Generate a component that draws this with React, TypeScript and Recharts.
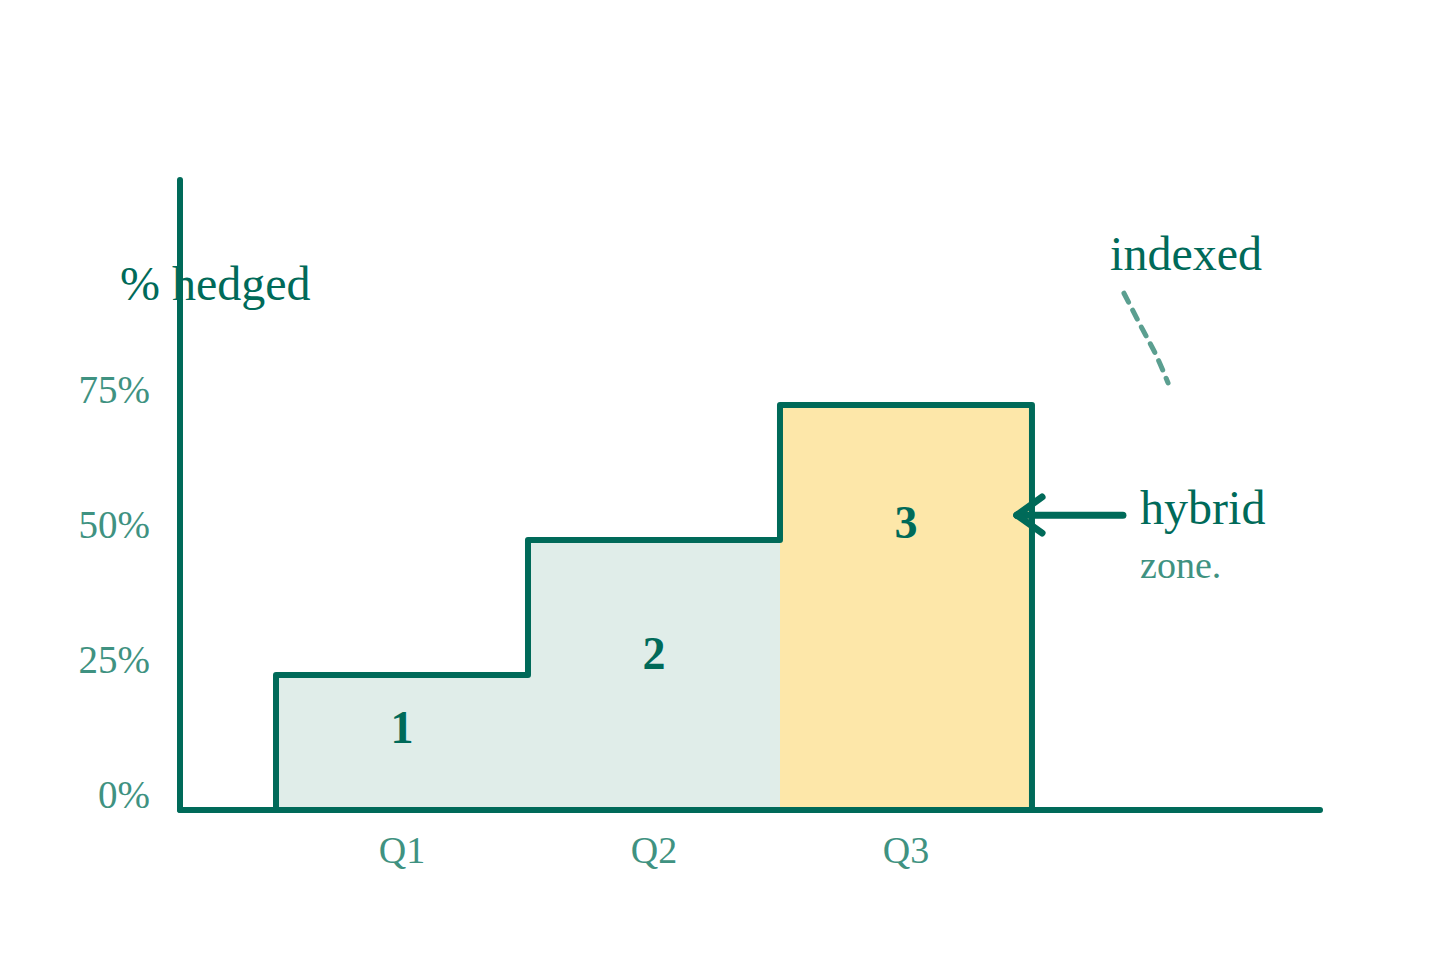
import {
  ComposedChart, Area, Line, XAxis, YAxis, ReferenceLine, ReferenceDot,
} from 'recharts'

// step outline: quarter position (Q1 centre = 1) vs % hedged
const stepX = [0.5, 0.5, 1.5, 2.5, 3.5, 3.5]
const stepY = [0, 25, 50, 75, 75, 0]

const quarterTicks = [1, 2, 3]
const quarterNames = ['Q1', 'Q2', 'Q3']
const pctTicks = [0, 25, 50, 75]

// step numbers inside each block
const stepLabels = ['1', '2', '3']
const stepLabelX = [1, 2, 3]
const stepLabelY = [12.4, 26.1, 50.4]

// dashed hand-drawn curve under "indexed"
const curveX = [3.865, 3.94, 3.996, 4.04]
const curveY = [95.7, 88.9, 83.9, 79.1]

// annotation texts
const noteText = ['% hedged', 'indexed', 'hybrid', 'zone.']
const noteX = [-0.119, 3.81, 3.929, 3.929]
const noteY = [94.4, 100, 53, 43]

// arrow pointing at the hybrid block
const arrowTail = { x: 3.861, y: 54.6 }
const arrowTip = { x: 3.44, y: 54.6 }
const arrowArmUp = { x: 3.54, y: 57.96 }
const arrowArmDown = { x: 3.54, y: 51.3 }

const DARK = '#006a59'
const MID = '#3f9281'
const DASH = '#5b9f90'
const FONT = '"Liberation Serif", "Times New Roman", serif'

const stepData = stepX.map((x, i) => ({ x, y: stepY[i] }))
const curveData = curveX.map((x, i) => ({ x, y: curveY[i] }))

const noteStyle = [
  { size: 48, color: DARK },
  { size: 48, color: DARK },
  { size: 48, color: DARK },
  { size: 38, color: MID },
]

// eslint-disable-next-line @typescript-eslint/no-explicit-any
const PctTick = ({ x, y, payload }: any) => (
  <text x={x} y={y - 2} textAnchor="end" fontSize={39} fontFamily={FONT} fill={MID}>
    {payload.value}%
  </text>
)

// eslint-disable-next-line @typescript-eslint/no-explicit-any
const QuarterTick = ({ x, y, payload }: any) => (
  <text x={x} y={y - 2} textAnchor="middle" fontSize={38} fontFamily={FONT} fill={MID}>
    {quarterNames[quarterTicks.indexOf(payload.value)]}
  </text>
)

export default function App() {
  return (
    <div style={{ position: 'absolute', left: 0, top: 0, background: '#fff' }}>
      <ComposedChart
        width={1440}
        height={960}
        data={stepData}
        margin={{ top: 180, right: 120, bottom: 90, left: 100 }}
      >
        <defs>
          <linearGradient id="stepFill" x1="0" y1="0" x2="1" y2="0">
            <stop offset="0.6667" stopColor="#e0ede9" />
            <stop offset="0.6667" stopColor="#fde7a9" />
          </linearGradient>
        </defs>
        <Area
          dataKey="y"
          type="stepAfter"
          fill="url(#stepFill)"
          fillOpacity={1}
          stroke="none"
          isAnimationActive={false}
          dot={false}
          activeDot={false}
        />
        <XAxis
          dataKey="x"
          type="number"
          domain={[0.119, 4.643]}
          allowDataOverflow
          ticks={quarterTicks}
          tick={<QuarterTick />}
          tickLine={false}
          tickSize={0}
          tickMargin={55}
          height={60}
          axisLine={{ stroke: DARK, strokeWidth: 6, strokeLinecap: 'round' }}
        />
        <YAxis
          type="number"
          domain={[0, 116.67]}
          allowDataOverflow
          ticks={pctTicks}
          tick={<PctTick />}
          tickLine={false}
          tickSize={0}
          tickMargin={30}
          width={80}
          axisLine={{ stroke: DARK, strokeWidth: 6, strokeLinecap: 'round' }}
        />
        <Area
          dataKey="y"
          type="stepAfter"
          fill="none"
          stroke={DARK}
          strokeWidth={6}
          strokeLinejoin="round"
          strokeLinecap="round"
          isAnimationActive={false}
          dot={false}
          activeDot={false}
        />
        <Line
          data={curveData}
          dataKey="y"
          type="monotone"
          stroke={DASH}
          strokeWidth={5}
          strokeDasharray="10 9"
          strokeLinecap="round"
          dot={false}
          activeDot={false}
          isAnimationActive={false}
        />
        <ReferenceLine segment={[arrowTail, arrowTip]} stroke={DARK} strokeWidth={7} strokeLinecap="round" ifOverflow="visible" />
        <ReferenceLine segment={[arrowArmUp, arrowTip]} stroke={DARK} strokeWidth={7} strokeLinecap="round" ifOverflow="visible" />
        <ReferenceLine segment={[arrowTip, arrowArmDown]} stroke={DARK} strokeWidth={7} strokeLinecap="round" ifOverflow="visible" />
        {stepLabels.map((t, i) => (
          <ReferenceDot
            key={t}
            x={stepLabelX[i]}
            y={stepLabelY[i]}
            ifOverflow="visible"
            // eslint-disable-next-line @typescript-eslint/no-explicit-any
            shape={(p: any) => (
              <text x={p.cx} y={p.cy} textAnchor="middle" fontSize={46} fontWeight="bold" fontFamily={FONT} fill={DARK}>
                {t}
              </text>
            )}
          />
        ))}
        {noteText.map((t, i) => (
          <ReferenceDot
            key={t}
            x={noteX[i]}
            y={noteY[i]}
            ifOverflow="visible"
            // eslint-disable-next-line @typescript-eslint/no-explicit-any
            shape={(p: any) => (
              <text x={p.cx} y={p.cy} textAnchor="start" fontSize={noteStyle[i].size} fontFamily={FONT} fill={noteStyle[i].color}>
                {t}
              </text>
            )}
          />
        ))}
      </ComposedChart>
    </div>
  )
}
